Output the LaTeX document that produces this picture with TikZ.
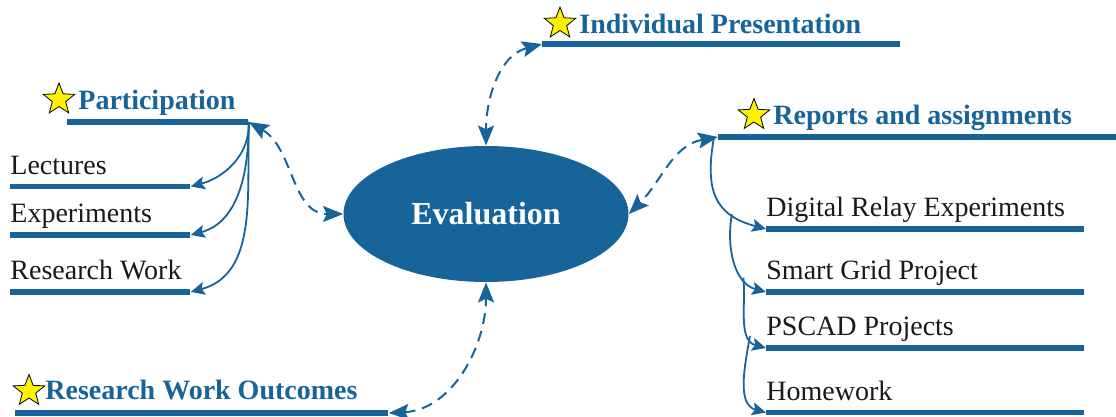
\documentclass[tikz,border=0pt]{standalone}
\usepackage{fontspec}
\setmainfont{Liberation Serif}
\usetikzlibrary{shapes.geometric,arrows.meta,positioning}
\definecolor{evalblue}{HTML}{16649A}
\tikzset{
  bar/.style={fill=evalblue,inner sep=0pt,minimum height=2.6pt,anchor=west},
  head/.style={text=evalblue,font=\fontsize{14}{16}\selectfont\bfseries,inner sep=0pt,anchor=base west},
  item/.style={text=black!90,font=\fontsize{14}{16}\selectfont,inner sep=0pt,anchor=base west},
  star5/.style={star,star points=5,star point ratio=2.35,fill=yellow,draw=black,line width=0.4pt,minimum size=16.5pt,inner sep=0pt},
  link/.style={evalblue,line width=1pt,dash pattern=on 5.5pt off 3.5pt,
    {Stealth[length=10pt,width=8pt,inset=1.8pt]}-{Stealth[length=10pt,width=8pt,inset=1.8pt]}},
  branch/.style={evalblue,line width=0.9pt,-{Stealth[length=7pt,width=6.5pt,inset=1.4pt]}}
}
\begin{document}
\begin{tikzpicture}[x=0.5pt,y=-0.5pt]
\useasboundingbox (0,0) rectangle (1116,417);
\node[ellipse,fill=evalblue,minimum width=142.5pt,minimum height=68pt,inner sep=0pt,text=white,font=\fontsize{16}{18}\selectfont\bfseries] (eval) at (486,214) {Evaluation};
\node[bar,minimum width=179pt] (ipbar) at (542,44) {};
\node[bar,minimum width=90.5pt] (partbar) at (67,122) {};
\node[bar,minimum width=199pt] (repbar) at (718,137) {};
\node[bar,minimum width=186.5pt] (rwobar) at (15,413) {};
\node[head] (iphead) at (579,33.5) {Individual Presentation};
\node[head] (parthead) at (78,109.5) {Participation};
\node[head] (rephead) at (773,125) {Reports and assignments};
\node[head] (rwohead) at (45,400) {Research Work Outcomes};
\node[star5] (ipstar) at ([xshift=-9.5pt,yshift=5pt]iphead.base west) {};
\node[star5] (partstar) at ([xshift=-9.5pt,yshift=5pt]parthead.base west) {};
\node[star5] (repstar) at ([xshift=-9.5pt,yshift=5pt]rephead.base west) {};
\node[star5] (rwostar) at ([xshift=-8pt,yshift=4.5pt]rwohead.base west) {};
\node[bar,minimum width=90pt] (lectbar) at (10,186.5) {};
\node[bar,minimum width=90pt] (expbar) at (10,235) {};
\node[bar,minimum width=90pt] (rwbar) at (10,292) {};
\node[item] (lect) at ([yshift=6.2pt]lectbar.west) {Lectures};
\node[item] (exp) at ([yshift=6.2pt]expbar.west) {Experiments};
\node[item] (rw) at ([yshift=6.2pt]rwbar.west) {Research Work};
\node[bar,minimum width=159pt] (drbar) at (766,229) {};
\node[bar,minimum width=159pt] (sgbar) at (766,292) {};
\node[bar,minimum width=159pt] (pscadbar) at (766,348) {};
\node[bar,minimum width=159pt] (hwbar) at (766,412.5) {};
\node[item] (dr) at ([yshift=6.2pt]drbar.west) {Digital Relay Experiments};
\node[item] (sg) at ([yshift=6.2pt]sgbar.west) {Smart Grid Project};
\node[item] (pscad) at ([yshift=6.2pt]pscadbar.west) {PSCAD Projects};
\node[item] (hw) at ([yshift=6.2pt]hwbar.west) {Homework};
\draw[link] (partbar.east) to[out=-30,in=180] (eval.west);
\draw[link] (ipbar.west) to[out=195,in=90] (eval.north);
\draw[link] (repbar.west) to[out=190,in=45] (eval.east);
\draw[link] (rwobar.east) to[out=3,in=-90] (eval.south);
\draw[branch] (partbar.east) to[out=-88,in=15] (lectbar.east);
\draw[branch] (partbar.east) to[out=-90,in=15] (expbar.east);
\draw[branch] (partbar.east) to[out=-92,in=15] (rwbar.east);
\draw[branch] ([xshift=-2pt]repbar.west) to[out=-100,in=165,looseness=1.3] coordinate[pos=0.72] (rk1) (drbar.west);
\draw[branch] (rk1) to[out=-100,in=165] coordinate[pos=0.7] (rk2) (sgbar.west);
\draw[branch] (rk2) to[out=-85,in=165] coordinate[pos=0.72] (rk3) (pscadbar.west);
\draw[branch] (rk3) to[out=-100,in=165] (hwbar.west);
\end{tikzpicture}
\end{document}
